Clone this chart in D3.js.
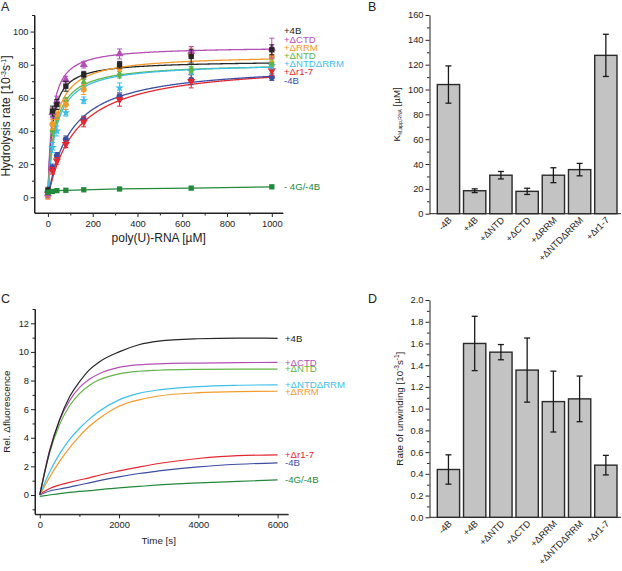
<!DOCTYPE html>
<html><head><meta charset="utf-8">
<script src="https://cdn.jsdelivr.net/npm/d3@7"></script>
<style>
body{margin:0;background:#fff;}
svg{display:block;font-family:"Liberation Sans",Arial,Helvetica,sans-serif;}
</style></head>
<body><svg id="fig" width="622" height="571"></svg>
<script>
// ---------- Panel A data ----------
const aConc = [0, 20, 40, 80, 160, 320, 640, 1000];
const aNames = ["+4B", "+ΔCTD", "+ΔRRM", "+ΔNTD", "+ΔNTDΔRRM", "+Δr1-7", "-4B"];
const aColors = ["#262626", "#b44fb6", "#f39a2c", "#62b446", "#3ebfe9", "#e3262f", "#3b4ea3"];
const aSymbols = ["square", "triangle", "circle", "diamond", "star", "triangleDown", "circle"];
const aRate4B = [4, 52, 56, 67, 74, 80, 85, 89];
const aRateCTD = [2, 51, 58, 71, 80, 86.5, 88, 90];
const aRateRRM = [1, 44, 50, 56, 65, 78, 86, 85];
const aRateNTD = [2, 40, 48, 58, 69, 74, 77, 81];
const aRateNTDRRM = [3, 30, 40, 51, 58.5, 66, 76, 79.5];
const aRateR17 = [2, 16, 22, 32, 45.5, 59, 70, 76.5];
const aRateMinus4B = [3, 18, 25, 35, 47, 61, 71, 72.5];
const aErr4B = [2, 3, 3, 3, 2, 2, 4, 3];
const aErrCTD = [2, 3, 3, 2, 2, 3, 3, 6];
const aErrRRM = [2, 3, 3, 3, 3, 2, 4, 3];
const aErrNTD = [2, 3, 2, 2, 2, 2, 2, 2];
const aErrNTDRRM = [2, 3, 3, 2, 2, 3, 2, 2];
const aErrR17 = [3, 2, 2, 2, 3, 4, 4, 3];
const aErrMinus4B = [2, 2, 2, 2, 2, 2, 3, 2];
const aFitVmax = [82.5, 91, 86, 81, 81.3, 81.7, 80.6];
const aFitKm = [18.5, 18, 31, 31, 35.5, 127.5, 104];
const aNoG4BName = "- 4G/-4B";
const aNoG4BColor = "#23893a";
const aRateNoG4B = [3, 3.5, 4, 4.2, 4.5, 5, 5.5, 6.3];
const aXTicks = [0, 200, 400, 600, 800, 1000];
const aYTicks = [0, 20, 40, 60, 80, 100];

// ---------- Panel B / D data ----------
const barCats = ["-4B", "+4B", "+ΔNTD", "+ΔCTD", "+ΔRRM", "+ΔNTDΔRRM", "+Δr1-7"];
const bKm = [104, 18.5, 31, 18, 31, 35.5, 127.5];
const bKmErr = [15, 1.5, 3, 2.5, 6, 5, 17];
const bYTicks = [0, 20, 40, 60, 80, 100, 120, 140, 160];
const dRate = [0.44, 1.6, 1.52, 1.355, 1.065, 1.09, 0.48];
const dRateErr = [0.135, 0.25, 0.07, 0.295, 0.28, 0.21, 0.09];
const dYTicks = [0, 0.2, 0.4, 0.6, 0.8, 1.0, 1.2, 1.4, 1.6, 1.8, 2.0];

// ---------- Panel C data ----------
const cTime = [0, 250, 500, 750, 1000, 1250, 1500, 2000, 2500, 3000, 4000, 5000, 6000];
const cNames = ["+4B", "+ΔCTD", "+ΔNTD", "+ΔNTDΔRRM", "+ΔRRM", "+Δr1-7", "-4B", "-4G/-4B"];
const cColors = ["#262626", "#b44fb6", "#62b446", "#3ebfe9", "#f39a2c", "#e3262f", "#3b4ea3", "#23893a"];
const c4B = [0, 3.05, 5.26, 6.85, 7.9, 8.75, 9.3, 10.0, 10.5, 10.75, 10.92, 10.97, 10.95];
const cCTD = [0, 3.15, 5.22, 6.59, 7.5, 8.09, 8.48, 8.92, 9.1, 9.17, 9.22, 9.25, 9.27];
const cNTD = [0, 2.96, 4.93, 6.22, 7.09, 7.66, 8.05, 8.47, 8.65, 8.72, 8.78, 8.8, 8.8];
const cNTDRRM = [0, 1.6, 2.87, 3.87, 4.65, 5.3, 5.85, 6.65, 7.1, 7.35, 7.58, 7.67, 7.7];
const cRRM = [0, 1.25, 2.35, 3.3, 4.1, 4.8, 5.35, 6.2, 6.65, 6.92, 7.15, 7.23, 7.25];
const cR17 = [0.05, 0.45, 0.7, 0.88, 1.05, 1.2, 1.38, 1.68, 1.95, 2.2, 2.55, 2.75, 2.8];
const cMinus4B = [0, 0.28, 0.42, 0.55, 0.7, 0.85, 1.0, 1.27, 1.5, 1.68, 1.97, 2.15, 2.25];
const cNoG4B = [-0.1, 0.0, 0.1, 0.18, 0.25, 0.3, 0.38, 0.5, 0.6, 0.7, 0.85, 0.95, 1.05];
const cXTicks = [0, 2000, 4000, 6000];
const cYTicks = [0, 2, 4, 6, 8, 10, 12];

// ---------- drawing ----------
const svg = d3.select("#fig");
const AX = "#222";
const tickFont = 9.3, titleFontA = 12, titleFont = 9.8, seriesFont = 9.6;

function minorTicks(lo, hi, step, majors) {
  const out = [];
  for (let v = lo; v <= hi + 1e-9; v += step) {
    const r = Math.round(v * 1000) / 1000;
    if (!majors.some(m => Math.abs(m - r) < 1e-6)) out.push(r);
  }
  return out;
}
function styleAxis(g) {
  g.selectAll("path.domain").attr("stroke", AX).attr("stroke-width", 1);
  g.selectAll(".tick line").attr("stroke", AX).attr("stroke-width", 1);
  g.selectAll(".tick text").attr("fill", AX).attr("font-size", tickFont).attr("font-family", null);
}
function leftAxis(scale, x, majors, minors, fmt) {
  const g = svg.append("g").attr("transform", `translate(${x},0)`)
    .call(d3.axisLeft(scale).tickValues(majors).tickSize(4).tickSizeOuter(0).tickPadding(2).tickFormat(fmt));
  styleAxis(g);
  const m = svg.append("g").attr("transform", `translate(${x},0)`)
    .call(d3.axisLeft(scale).tickValues(minors).tickSize(2.5).tickSizeOuter(0).tickFormat(""));
  m.select("path.domain").remove();
  styleAxis(m);
}
function bottomAxis(scale, y, majors, minors, fmt) {
  const g = svg.append("g").attr("transform", `translate(0,${y})`)
    .call(d3.axisBottom(scale).tickValues(majors).tickSize(4).tickSizeOuter(0).tickPadding(3).tickFormat(fmt));
  styleAxis(g);
  if (minors) {
    const m = svg.append("g").attr("transform", `translate(0,${y})`)
      .call(d3.axisBottom(scale).tickValues(minors).tickSize(2.5).tickSizeOuter(0).tickFormat(""));
    m.select("path.domain").remove();
    styleAxis(m);
  }
}
function panelLetter(t, x, y) {
  svg.append("text").attr("x", x).attr("y", y).attr("font-size", 12.5).attr("fill", "#222").text(t);
}
function symbolFor(name) {
  return {square: d3.symbolSquare, triangle: d3.symbolTriangle, circle: d3.symbolCircle,
          diamond: d3.symbolDiamond, star: d3.symbolStar, triangleDown: d3.symbolTriangle}[name];
}

// ===== Panel A =====
const xA = d3.scaleLinear().domain([-60, 1050]).range([34.5, 283]);
const yA = d3.scaleLinear().domain([-9.5, 110]).range([213, 15]);
const aSeries = [aRate4B, aRateCTD, aRateRRM, aRateNTD, aRateNTDRRM, aRateR17, aRateMinus4B];
const aErrs = [aErr4B, aErrCTD, aErrRRM, aErrNTD, aErrNTDRRM, aErrR17, aErrMinus4B];

leftAxis(yA, 34.5, aYTicks, minorTicks(10, 110, 20, aYTicks), d3.format("d"));
bottomAxis(xA, 213, aXTicks, minorTicks(100, 900, 200, aXTicks), d3.format("d"));
svg.append("line").attr("x1", 34.5).attr("x2", 34.5).attr("y1", 15).attr("y2", 213).attr("stroke", AX);
svg.append("line").attr("x1", 34.5).attr("x2", 283).attr("y1", 213).attr("y2", 213).attr("stroke", AX);

// fit curves (Michaelis–Menten fits with fitted parameters)
const fitX = d3.range(0, 1000.01, 2);
const fitLine = d3.line().x(d => xA(d[0])).y(d => yA(d[1]));
aSeries.forEach((s, i) => {
  const pts = fitX.map(c => [c, aFitVmax[i] * c / (aFitKm[i] + c)]);
  svg.append("path").attr("d", fitLine(pts)).attr("fill", "none")
    .attr("stroke", aColors[i]).attr("stroke-width", 1.3);
});
svg.append("path").attr("d", d3.line().x((d, j) => xA(aConc[j])).y(d => yA(d))(aRateNoG4B))
  .attr("fill", "none").attr("stroke", aNoG4BColor).attr("stroke-width", 1.3);

function drawErr(x, y0, y1, col, cap) {
  svg.append("line").attr("x1", x).attr("x2", x).attr("y1", y0).attr("y2", y1).attr("stroke", col).attr("stroke-width", 1);
  [y0, y1].forEach(yy => svg.append("line").attr("x1", x - cap).attr("x2", x + cap).attr("y1", yy).attr("y2", yy)
    .attr("stroke", col).attr("stroke-width", 1));
}
for (let i = aSeries.length - 1; i >= 0; i--) {
  const s = aSeries[i];
  s.forEach((v, j) => {
    const e = aErrs[i][j];
    drawErr(xA(aConc[j]), yA(v - e), yA(v + e), aColors[i], 2.5);
  });
  const sym = d3.symbol().type(symbolFor(aSymbols[i])).size(aSymbols[i] === "star" ? 24 : 28);
  s.forEach((v, j) => {
    svg.append("path").attr("d", sym())
      .attr("transform", `translate(${xA(aConc[j])},${yA(v)})` + (aSymbols[i] === "triangleDown" ? " rotate(180)" : ""))
      .attr("fill", aColors[i]);
  });
}
aRateNoG4B.forEach((v, j) => {
  svg.append("path").attr("d", d3.symbol().type(d3.symbolSquare).size(28)())
    .attr("transform", `translate(${xA(aConc[j])},${yA(v)})`).attr("fill", aNoG4BColor);
});
// series labels (stacked list at right)
aNames.forEach((n, i) => {
  svg.append("text").attr("x", 284).attr("y", 31 + i * 8.2 + 3.4).attr("font-size", seriesFont)
    .attr("fill", i === 0 ? "#222" : aColors[i]).text(n);
});
svg.append("text").attr("x", 284).attr("y", yA(aRateNoG4B[aRateNoG4B.length - 1]) + 3.4)
  .attr("font-size", seriesFont).attr("fill", aNoG4BColor).text(aNoG4BName);
// titles
svg.append("text").attr("x", xA(495)).attr("y", 242).attr("text-anchor", "middle")
  .attr("font-size", titleFontA).attr("fill", AX).text("poly(U)-RNA [µM]");
{
  const t = svg.append("text").attr("transform", `translate(10,${(15 + 213) / 2 + 2}) rotate(-90)`)
    .attr("text-anchor", "middle").attr("font-size", titleFontA).attr("fill", AX);
  t.append("tspan").text("Hydrolysis rate [10");
  t.append("tspan").attr("font-size", 7).attr("dy", -4.5).text("-3");
  t.append("tspan").attr("dy", 4.5).text("s");
  t.append("tspan").attr("font-size", 7).attr("dy", -4.5).text("-1");
  t.append("tspan").attr("dy", 4.5).text("]");
}
panelLetter("A", 1, 11);

// ===== Bar panels B & D =====
function barPanel(opts) {
  const {top, bottom, yDomain, ticks, minorStep, fmt, values, errs} = opts;
  const y = d3.scaleLinear().domain(yDomain).range([bottom, top]);
  const xb = d3.scaleBand().domain(barCats).range([437.3, 617]).paddingInner(0.15).paddingOuter(0);
  leftAxis(y, 429.5, ticks, minorTicks(yDomain[0] + minorStep, yDomain[1], minorStep * 2, ticks), fmt);
  svg.append("line").attr("x1", 429.5).attr("x2", 621).attr("y1", bottom).attr("y2", bottom).attr("stroke", AX);
  barCats.forEach((c, i) => {
    svg.append("rect").attr("x", xb(c)).attr("width", xb.bandwidth())
      .attr("y", y(values[i])).attr("height", y(0) - y(values[i]))
      .attr("fill", "#c3c3c3").attr("stroke", "#2a2a2a").attr("stroke-width", 1.4);
  });
  barCats.forEach((c, i) => {
    const cx = xb(c) + xb.bandwidth() / 2;
    const y0 = y(values[i] - errs[i]), y1 = y(values[i] + errs[i]);
    svg.append("line").attr("x1", cx).attr("x2", cx).attr("y1", y0).attr("y2", y1).attr("stroke", "#1a1a1a").attr("stroke-width", 1.3);
    [y0, y1].forEach(yy => svg.append("line").attr("x1", cx - 3).attr("x2", cx + 3).attr("y1", yy).attr("y2", yy)
      .attr("stroke", "#1a1a1a").attr("stroke-width", 1.3));
    svg.append("text").attr("transform", `translate(${cx + 4},${bottom + 7}) rotate(-45)`)
      .attr("text-anchor", "end").attr("font-size", tickFont).attr("fill", AX).text(c);
  });
  return y;
}
barPanel({top: 15, bottom: 213.7, yDomain: [0, 160], ticks: bYTicks, minorStep: 10,
  fmt: d3.format("d"), values: bKm, errs: bKmErr});
{
  const t = svg.append("text").attr("transform", `translate(400,${(15 + 213.7) / 2}) rotate(-90)`)
    .attr("text-anchor", "middle").attr("font-size", titleFont).attr("fill", AX);
  t.append("tspan").text("K");
  t.append("tspan").attr("font-size", 5).attr("dy", 2).text("M,app,RNA");
  t.append("tspan").attr("dy", -2).text(" [µM]");
}
panelLetter("B", 368, 11);

barPanel({top: 300, bottom: 517.3, yDomain: [0, 2], ticks: dYTicks, minorStep: 0.1,
  fmt: d3.format(".1f"), values: dRate, errs: dRateErr});
{
  const t = svg.append("text").attr("transform", `translate(403,${(300 + 517.3) / 2}) rotate(-90)`)
    .attr("text-anchor", "middle").attr("font-size", titleFont).attr("fill", AX);
  t.append("tspan").text("Rate of unwinding [10");
  t.append("tspan").attr("font-size", 6.5).attr("dy", -4).text("-3");
  t.append("tspan").attr("dy", 4).text("s");
  t.append("tspan").attr("font-size", 6.5).attr("dy", -4).text("-1");
  t.append("tspan").attr("dy", 4).text("]");
}
panelLetter("D", 368, 303);

// ===== Panel C =====
const xC = d3.scaleLinear().domain([-120, 6270]).range([35, 288.3]);
const yC = d3.scaleLinear().domain([-1.35, 13]).range([514.3, 309]);
leftAxis(yC, 35, cYTicks, minorTicks(-1, 13, 2, cYTicks), d3.format("d"));
bottomAxis(xC, 514.3, cXTicks, minorTicks(1000, 5000, 2000, cXTicks), d3.format("d"));
svg.append("line").attr("x1", 35).attr("x2", 35).attr("y1", 309).attr("y2", 514.3).attr("stroke", AX);
svg.append("line").attr("x1", 35).attr("x2", 288.3).attr("y1", 514.3).attr("y2", 514.3).attr("stroke", AX);
const cSeries = [c4B, cCTD, cNTD, cNTDRRM, cRRM, cR17, cMinus4B, cNoG4B];
const cLine = d3.line().x((d, j) => xC(cTime[j])).y(d => yC(d)).curve(d3.curveMonotoneX);
for (let i = cSeries.length - 1; i >= 0; i--) {
  svg.append("path").attr("d", cLine(cSeries[i])).attr("fill", "none")
    .attr("stroke", cColors[i]).attr("stroke-width", 1.2);
}
cNames.forEach((n, i) => {
  const last = cSeries[i][cSeries[i].length - 1];
  svg.append("text").attr("x", 285).attr("y", yC(last) + 3.4).attr("font-size", seriesFont)
    .attr("fill", i === 0 ? "#222" : cColors[i]).text(n);
});
svg.append("text").attr("x", xC(3000)).attr("y", 544).attr("text-anchor", "middle")
  .attr("font-size", titleFont).attr("fill", AX).text("Time [s]");
svg.append("text").attr("transform", `translate(10,${(309 + 514.3) / 2}) rotate(-90)`)
  .attr("text-anchor", "middle").attr("font-size", titleFont).attr("fill", AX).text("Rel. Δfluorescence");
panelLetter("C", 1, 303);
</script>
</body></html>
